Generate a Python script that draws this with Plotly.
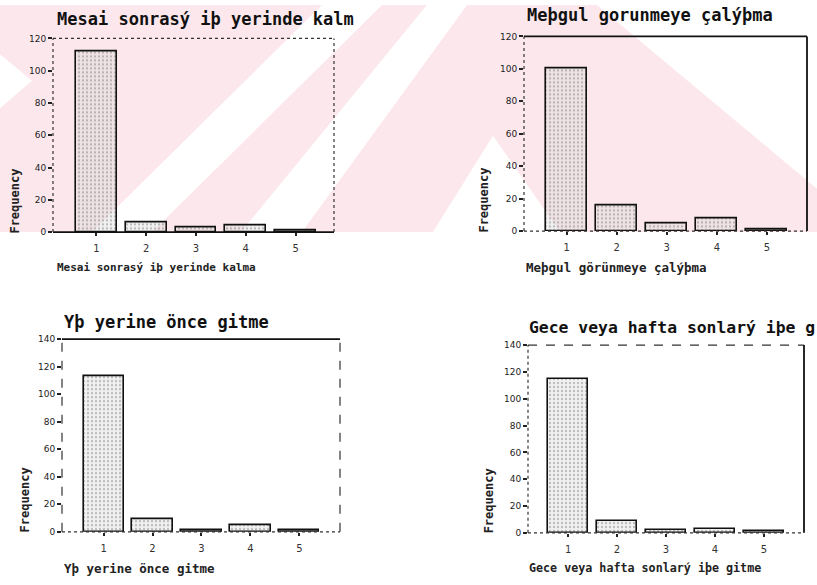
import plotly.graph_objects as go

W, H = 817, 585

categories = [1, 2, 3, 4, 5]
tick_text = ["1", "2", "3", "4", "5"]

mesai_sonrasi = [112, 6, 3, 4, 1]
mesgul_gorunme = [100, 16, 5, 8, 1]
once_gitme = [113, 9, 1, 5, 1]
gece_hafta = [115, 9, 2, 3, 1]

titles = ["Mesai sonrasý iþ yerinde kalm",
          "Meþgul gorunmeye çalýþma",
          "Yþ yerine önce gitme",
          "Gece veya hafta sonlarý iþe g"]
xtitles = ["Mesai sonrasý iþ yerinde kalma",
           "Meþgul görünmeye çalýþma",
           "Yþ yerine önce gitme",
           "Gece veya hafta sonlarý iþe gitme"]
ylabel = "Frequency"

series = [mesai_sonrasi, mesgul_gorunme, once_gitme, gece_hafta]
ymax = [120, 120, 140, 140]

# panel geometry in pixels: (left, right, top, bottom), x-range
panels = [
    dict(l=53, r=334, t=34, b=231, xr=[0.13, 5.77]),
    dict(l=524, r=807, t=32, b=230, xr=[0.15, 5.80]),
    dict(l=62, r=340, t=340, b=536, xr=[0.15, 5.83]),
    dict(l=528, r=804, t=346, b=537, xr=[0.18, 5.82]),
]
title_pos = [(55, 14, 17), (525, 10, 17), (62, 323, 17), (527, 328, 16.4)]
xtitle_pos = [(55, 267, 11), (524, 267, 12.5), (62, 573, 12.5), (527, 573, 11.7)]
ylab_pos = [(15, 200), (484, 199), (25, 504), (489, 505)]
# frame styles: (bottom, left, top, right)
frame_styles = [
    ("solid", "dot", "dot", "dot"),
    ("dot", "dot", "solid", "solid"),
    ("dot", "dash", "solid", "dash"),
    ("dot", "dot", "dash", "solid"),
]


def px(x):
    return x / W


def py(y):
    return 1 - y / H


fig = go.Figure()
layout = dict(
    width=W, height=H,
    margin=dict(l=0, r=0, t=0, b=0),
    paper_bgcolor="white",
    plot_bgcolor="rgba(0,0,0,0)",
    showlegend=False,
    bargap=0,
)
shapes = []
annotations = []

# faint watermark (pink band with white stripes)
pink = "rgb(252,232,236)"


def poly(pts, color):
    d = "M " + " L ".join(f"{px(x):.4f},{py(y):.4f}" for x, y in pts) + " Z"
    return dict(type="path", xref="paper", yref="paper", path=d,
                fillcolor=color, line=dict(width=0), layer="below")


shapes.append(poly([(0, 0), (817, 0), (817, 231), (0, 231)], pink))
for pts in [
    [(0, 50), (32, 77), (0, 105)],
    [(92, 231), (152, 231), (382, 0), (322, 0)],
    [(241, 231), (302, 231), (467, 0), (427, 0)],
    [(433, 231), (493, 133), (560, 231)],
    [(597, 0), (817, 0), (817, 187)],
]:
    shapes.append(poly(pts, "white"))

for i, p in enumerate(panels):
    n = "" if i == 0 else str(i + 1)
    xa, ya = "x" + n, "y" + n
    fig.add_trace(go.Bar(
        x=categories, y=series[i], xaxis=xa, yaxis=ya, width=0.82,
        marker=dict(
            color="rgba(215,215,215,0.35)",
            line=dict(color="#111", width=1.6),
            pattern=dict(shape=".", fgcolor="#808080", size=4, solidity=0.25,
                         fillmode="overlay"),
        ),
        hoverinfo="x+y",
    ))
    layout["xaxis" + n] = dict(
        domain=[px(p["l"]), px(p["r"])], anchor=ya, range=p["xr"],
        tickmode="array", tickvals=categories, ticktext=tick_text,
        ticks="outside", ticklen=3, tickwidth=1.5, tickcolor="#222",
        ticklabelstandoff=4,
        tickfont=dict(family="DejaVu Sans", size=10, color="#333"),
        showline=False, showgrid=False, zeroline=False, fixedrange=True,
    )
    layout["yaxis" + n] = dict(
        domain=[py(p["b"]), py(p["t"])], anchor=xa, range=[0, ymax[i]],
        tickmode="linear", tick0=0, dtick=20,
        ticks="outside", ticklen=4, tickwidth=1.5, tickcolor="#222",
        tickfont=dict(family="DejaVu Sans", size=9, color="#222"),
        showline=False, showgrid=False, zeroline=False, fixedrange=True,
    )
    xd, yd = xa + " domain", ya + " domain"
    sides = [((0, 0), (1, 0)), ((0, 0), (0, 1)), ((0, 1), (1, 1)), ((1, 0), (1, 1))]
    for (a, b), st in zip(sides, frame_styles[i]):
        shapes.append(dict(
            type="line", xref=xd, yref=yd, x0=a[0], y0=a[1], x1=b[0], y1=b[1],
            line=dict(color="#111" if st == "solid" else "#333",
                      width=1.8 if st == "solid" else 1.2, dash=st),
        ))
    tx, ty, ts = title_pos[i]
    annotations.append(dict(
        text="<b>" + titles[i] + "</b>", xref="paper", yref="paper",
        x=px(tx), y=py(ty),
        xanchor="left", yanchor="middle", showarrow=False,
        font=dict(family="DejaVu Sans Mono", size=ts, color="#111"),
    ))
    xx, xy, xs = xtitle_pos[i]
    annotations.append(dict(
        text="<b>" + xtitles[i] + "</b>", xref="paper", yref="paper",
        x=px(xx), y=py(xy),
        xanchor="left", yanchor="middle", showarrow=False,
        font=dict(family="DejaVu Sans Mono", size=xs, color="#222"),
    ))
    lx, ly = ylab_pos[i]
    annotations.append(dict(
        text="<b>" + ylabel + "</b>", xref="paper", yref="paper",
        x=px(lx), y=py(ly),
        xanchor="center", yanchor="middle", showarrow=False, textangle=-90,
        font=dict(family="DejaVu Sans Mono", size=12, color="#222"),
    ))

layout["shapes"] = shapes
layout["annotations"] = annotations
fig.update_layout(**layout)
fig.write_html("out.html")
